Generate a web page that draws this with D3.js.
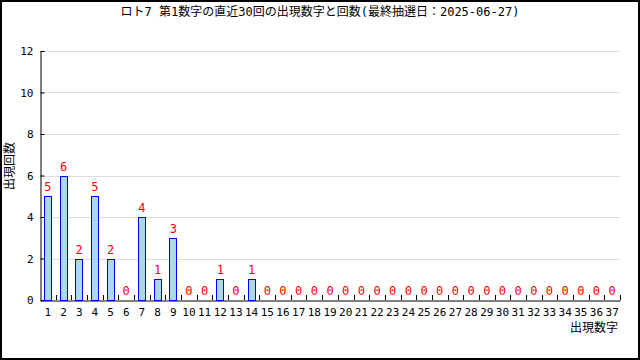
<!DOCTYPE html>
<html>
<head>
<meta charset="utf-8">
<script src="https://cdn.jsdelivr.net/npm/d3@7"></script>
<style>
  body { margin: 0; background: #fff; }
  svg { display: block; }
  text { font-family: "DejaVu Sans Mono", "Noto Sans CJK JP", monospace; }
</style>
</head>
<body>
<script>
const w = 640;
const h = 360;

const title = "ロト7 第1数字の直近30回の出現数字と回数(最終抽選日：2025-06-27)";
const numbers = d3.range(1, 38).map(String);
const counts = [5, 6, 2, 5, 2, 0, 4, 1, 3, 0, 0, 1, 0, 1,
  0, 0, 0, 0, 0, 0, 0, 0, 0, 0, 0, 0, 0, 0, 0, 0, 0, 0, 0, 0, 0, 0, 0];
const yTicks = [0, 2, 4, 6, 8, 10, 12];
const xLabel = "出現数字";
const yLabel = "出現回数";

const data = numbers.map((n, i) => ({ n: n, c: counts[i] }));

const plotLeft = 40;
const plotRight = 620;
const plotTop = 51;
const plotBottom = 300;

const svg = d3.select("body").append("svg")
  .attr("width", w)
  .attr("height", h);

svg.append("rect")
  .attr("x", 1).attr("y", 1)
  .attr("width", w - 2).attr("height", h - 2)
  .attr("fill", "#fff")
  .attr("stroke", "#000")
  .attr("stroke-width", 2);

const xScale = d3.scaleBand()
  .domain(numbers)
  .range([plotLeft, plotRight]);

const yScale = d3.scaleLinear()
  .domain([0, 12])
  .range([plotBottom, plotTop]);

// grid lines
svg.append("g")
  .selectAll("line")
  .data(yTicks.filter((t) => t > 0))
  .enter()
  .append("line")
  .attr("x1", plotLeft)
  .attr("x2", plotRight)
  .attr("y1", (d) => Math.round(yScale(d)) + 0.5)
  .attr("y2", (d) => Math.round(yScale(d)) + 0.5)
  .attr("stroke", "#dcdcdc")
  .attr("stroke-width", 1);

// y axis
const yAxis = d3.axisLeft(yScale).tickValues(yTicks).tickSize(-4).tickPadding(7);
const gy = svg.append("g")
  .attr("transform", "translate(" + (plotLeft + 0.5) + ",0)")
  .call(yAxis);
gy.select(".domain").attr("stroke", "#000");
gy.selectAll(".tick line").attr("stroke", "#000");
gy.selectAll("text").attr("font-size", 11).attr("fill", "#000");

// x axis
const xAxis = d3.axisBottom(xScale).tickSize(0).tickPadding(8);
const gx = svg.append("g")
  .attr("transform", "translate(0," + (plotBottom + 0.5) + ")")
  .call(xAxis);
gx.select(".domain").attr("stroke", "#000");
gx.selectAll("text").attr("font-size", 11).attr("fill", "#000");

// tick marks between categories (pointing up)
const bounds = numbers.slice(1).map((n) => xScale(n)).concat([plotRight]);
svg.append("g")
  .selectAll("line")
  .data(bounds)
  .enter()
  .append("line")
  .attr("x1", (d) => Math.round(d) + 0.5)
  .attr("x2", (d) => Math.round(d) + 0.5)
  .attr("y1", plotBottom - 5)
  .attr("y2", plotBottom)
  .attr("stroke", "#000");

// bars
const barW = 8;
svg.append("g")
  .selectAll("rect")
  .data(data.filter((d) => d.c > 0))
  .enter()
  .append("rect")
  .attr("x", (d) => Math.round(xScale(d.n) + xScale.bandwidth() / 2 - barW / 2) + 0.5)
  .attr("y", (d) => Math.round(yScale(d.c)) + 0.5)
  .attr("width", barW - 1)
  .attr("height", (d) => Math.round(yScale(0)) - Math.round(yScale(d.c)))
  .attr("fill", "#add8e6")
  .attr("stroke", "#0000ff")
  .attr("stroke-width", 1);

// value labels
svg.append("g")
  .selectAll("text")
  .data(data)
  .enter()
  .append("text")
  .attr("x", (d) => xScale(d.n) + xScale.bandwidth() / 2)
  .attr("y", (d) => yScale(d.c) - 5)
  .attr("text-anchor", "middle")
  .attr("font-size", 12)
  .attr("fill", "#ff0000")
  .text((d) => d.c);

// title
svg.append("text")
  .attr("x", w / 2)
  .attr("y", 16)
  .attr("text-anchor", "middle")
  .attr("font-size", 12)
  .attr("fill", "#000")
  .text(title);

// axis titles
svg.append("text")
  .attr("x", plotRight - 2)
  .attr("y", 332)
  .attr("text-anchor", "end")
  .attr("font-size", 12)
  .attr("fill", "#000")
  .text(xLabel);

svg.append("text")
  .attr("transform", "translate(14,166) rotate(-90)")
  .attr("text-anchor", "middle")
  .attr("font-size", 12)
  .attr("fill", "#000")
  .text(yLabel);
</script>
</body>
</html>
